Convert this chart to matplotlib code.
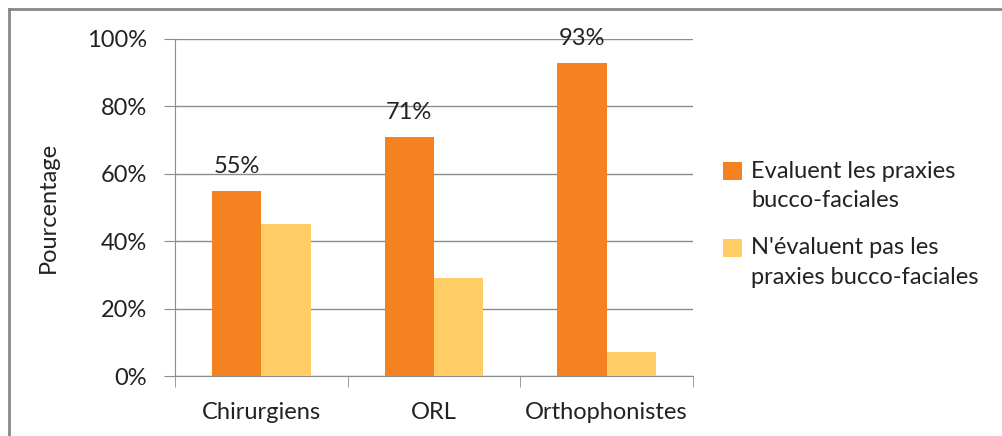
import numpy as np
import matplotlib.pyplot as plt
from matplotlib.lines import Line2D
from matplotlib.patches import Rectangle
from matplotlib.legend_handler import HandlerPatch

plt.rcParams['font.family'] = ['Lato', 'DejaVu Sans']

# Survey results, percent per group
groups = ['Chirurgiens', 'ORL', 'Orthophonistes']
evaluent = [55, 71, 93]
n_evaluent_pas = [45, 29, 7]
series_names = ['Evaluent les praxies\nbucco-faciales',
                "N'évaluent pas les\npraxies bucco-faciales"]

orange = '#F58220'
yellow = '#FFCC66'
grid_col = '#8C8C8C'
txt = '#222222'
fs = 17

fig = plt.figure(figsize=(10.02, 4.36), dpi=100)
ax = fig.add_axes([0.1747, 0.1376, 0.6916 - 0.1747, 0.9106 - 0.1376])

x = np.arange(len(groups))
w = 1 / 3.5
b1 = ax.bar(x - w / 2, evaluent, w, color=orange, zorder=3)
b2 = ax.bar(x + w / 2, n_evaluent_pas, w, color=yellow, zorder=3)

for rect, v in zip(b1, evaluent):
    ax.text(rect.get_x() + rect.get_width() / 2, v + 4, f'{v}%',
            ha='center', va='bottom', fontsize=fs, color=txt)

ax.set_xlim(-0.5, 2.5)
ax.set_ylim(0, 100)
ax.set_yticks(np.arange(0, 101, 20))
ax.set_yticklabels([f'{t}%' for t in range(0, 101, 20)])
ax.yaxis.grid(True, color=grid_col, linewidth=1, zorder=0)
ax.tick_params(axis='y', direction='out', length=8, color=grid_col,
               labelsize=fs, labelcolor=txt, pad=12)

# category labels centred, tick marks at group boundaries
ax.set_xticks(x)
ax.set_xticklabels(groups)
ax.tick_params(axis='x', length=0, labelsize=fs, labelcolor=txt, pad=19)
ax.set_xticks([-0.5, 0.5, 1.5, 2.5], minor=True)
ax.tick_params(axis='x', which='minor', direction='out', length=8, color=grid_col)

for s in ['top', 'right']:
    ax.spines[s].set_visible(False)
for s in ['left', 'bottom']:
    ax.spines[s].set_color(grid_col)

ax.set_ylabel('Pourcentage', fontsize=fs, color=txt, labelpad=20)


# legend squares sit beside the first line of each two-line label
def square_on_first_line(legend, orig_handle, xdescent, ydescent, width, height, fontsize):
    return Rectangle((-xdescent, -ydescent + 0.64 * fontsize), width, height)


handles = [b1.patches[0], b2.patches[0]]
leg = fig.legend(handles, series_names, loc='upper left',
                 bbox_to_anchor=(0.7, 0.68), frameon=False,
                 fontsize=fs, handlelength=0.8, handleheight=0.8,
                 handletextpad=0.4, labelspacing=1.1,
                 handler_map={Rectangle: HandlerPatch(patch_func=square_on_first_line)})
for t in leg.get_texts():
    t.set_color(txt)
    t.set_linespacing(1.5)

# outer chart border (top and left edges only are in frame)
fig.add_artist(Line2D([9 / 1002, 1], [1 - 9 / 436] * 2, transform=fig.transFigure,
                      color='#888888', linewidth=2))
fig.add_artist(Line2D([9 / 1002] * 2, [0, 1 - 9 / 436], transform=fig.transFigure,
                      color='#888888', linewidth=2))

fig.savefig('out.png', dpi=100)
